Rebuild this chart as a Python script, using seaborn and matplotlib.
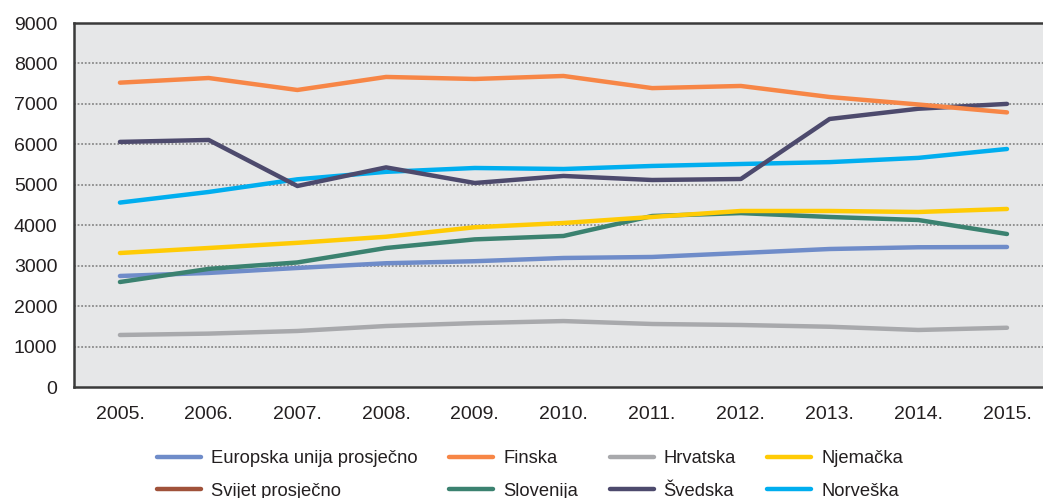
import numpy as np
import pandas as pd
import matplotlib
matplotlib.use("Agg")
import matplotlib.pyplot as plt
from matplotlib.lines import Line2D
import seaborn as sns

years = ["2005.", "2006.", "2007.", "2008.", "2009.", "2010.",
         "2011.", "2012.", "2013.", "2014.", "2015."]

eu = [2745, 2820, 2943, 3060, 3110, 3190, 3215, 3313, 3412, 3455, 3462]
finska = [7525, 7640, 7344, 7666, 7616, 7690, 7390, 7443, 7170, 6985, 6790]
hrvatska = [1286, 1320, 1385, 1508, 1580, 1630, 1558, 1533, 1490, 1410, 1465]
njemacka = [3313, 3437, 3565, 3715, 3950, 4055, 4204, 4352, 4352, 4327, 4402]
svijet = [np.nan] * 11
slovenija = [2596, 2920, 3080, 3437, 3650, 3734, 4228, 4300, 4204, 4129, 3783]
svedska = [6060, 6108, 4970, 5430, 5044, 5218, 5118, 5143, 6627, 6880, 7000]
norveska = [4560, 4822, 5135, 5320, 5415, 5390, 5465, 5514, 5560, 5665, 5885]

series_names = ["Europska unija prosječno", "Finska", "Hrvatska", "Njemačka",
                "Svijet prosječno", "Slovenija", "Švedska", "Norveška"]
series_values = [eu, finska, hrvatska, njemacka, svijet, slovenija, svedska, norveska]
colors = ["#6f8cc9", "#f78646", "#a8a9ac", "#ffcb05",
          "#a0523a", "#3b8270", "#4d4a6d", "#00aeef"]

rows = []
for name, vals in zip(series_names, series_values):
    for i, v in enumerate(vals):
        rows.append({"idx": i, "value": v, "series": name})
df = pd.DataFrame(rows)

sns.set_style("white")
plt.rcParams["font.family"] = ["Liberation Sans", "DejaVu Sans"]

fig = plt.figure(figsize=(10.43, 4.98), dpi=100)
ax = fig.add_axes([74 / 1043, 1 - 387 / 498, 1 - 74 / 1043, (387 - 23) / 498])
ax.set_facecolor("#e6e7e8")

plot_df = df.dropna()
palette = {n: c for n, c in zip(series_names, colors)}
draw_order = ["Hrvatska", "Europska unija prosječno", "Slovenija", "Njemačka",
              "Norveška", "Švedska", "Finska"]
for name in draw_order:
    sub = plot_df[plot_df["series"] == name]
    sns.lineplot(data=sub, x="idx", y="value", color=palette[name], lw=3.2,
                 ax=ax, legend=False, solid_capstyle="round", zorder=3)

ax.set_xlim(-0.518, 10.406)
ax.set_ylim(0, 9000)
ax.set_xticks(range(len(years)))
ax.set_xticklabels(years)
ax.set_yticks(range(0, 9001, 1000))
ax.set_xlabel("")
ax.set_ylabel("")
ax.tick_params(axis="both", length=0, labelsize=14, colors="#231f20")
ax.tick_params(axis="y", pad=12)
ax.tick_params(axis="x", pad=14)

for y in range(1000, 9000, 1000):
    ax.axhline(y, color="#8a8a8a", lw=1.3, ls=(0, (1, 1)), zorder=1)

for s in ["left", "top", "bottom"]:
    ax.spines[s].set_visible(True)
    ax.spines[s].set_color("#3a3a3a")
    ax.spines[s].set_linewidth(1.8)
ax.spines["right"].set_visible(False)

order = [0, 4, 1, 5, 2, 6, 3, 7]
handles = [Line2D([0], [0], color=colors[i], lw=3.2, solid_capstyle="round") for i in order]
labels = [series_names[i] for i in order]
fig.legend(handles, labels, ncol=4, loc="upper left",
           bbox_to_anchor=(157 / 1043, 1 - 450 / 498), frameon=False,
           fontsize=13.2, handlelength=2.4, handletextpad=0.55,
           columnspacing=1.72, labelspacing=0.85, borderpad=0, borderaxespad=0,
           labelcolor="#231f20")

fig.savefig("out.png", dpi=100)
